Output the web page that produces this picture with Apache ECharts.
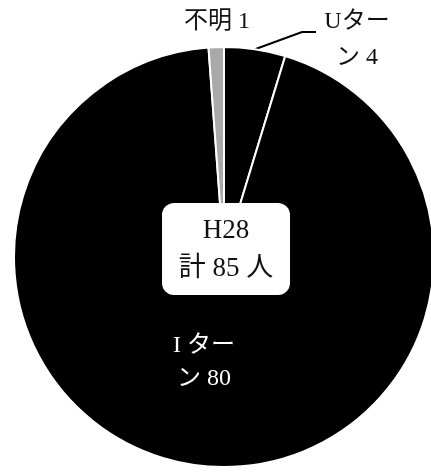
<!DOCTYPE html>
<html style="height: 100%">
<head>
    <meta charset="utf-8">
    <title>H28 pie</title>
    <script src="https://cdn.jsdelivr.net/npm/echarts@6/dist/echarts.min.js"></script>
</head>
<body style="height: 100%; margin: 0; background: #fff">
    <div id="chart" style="width: 431px; height: 472px"></div>
    <script>
        // データ（時計回り、12時の位置から）
        const names = ['Uターン', 'Iターン', '不明'];
        const values = [4, 80, 1];
        const colors = ['#000000', '#000000', '#a9a9a9'];
        const labelTexts = ['Uター\nン 4', 'I ター\nン 80', '不明 1'];
        const centerLines = ['H28', '計 85 人'];

        const font = '"Liberation Serif", "Noto Sans CJK JP", serif';

        const chart = echarts.init(document.getElementById('chart'), null, { renderer: 'canvas' });

        const option = {
            backgroundColor: '#ffffff',
            animation: false,
            // 中央の白い枠
            graphic: [{
                type: 'rect',
                z: 100,
                shape: { x: 162, y: 203, width: 128, height: 92, r: 12 },
                style: { fill: '#ffffff' }
            }, {
                type: 'text',
                z: 101,
                x: 226,
                y: 250,
                style: {
                    text: centerLines.join('\n'),
                    font: '27px ' + font,
                    lineHeight: 38,
                    fill: '#111',
                    align: 'center',
                    verticalAlign: 'middle'
                }
            }],
            series: [{
                type: 'pie',
                center: [224, 257],
                radius: [0, 210],
                startAngle: 90,
                clockwise: true,
                silent: true,
                itemStyle: { borderColor: '#ffffff', borderWidth: 2 },
                labelLine: { show: true, lineStyle: { color: '#000', width: 2 }, smooth: false },
                label: {
                    fontFamily: font,
                    fontSize: 24,
                    color: '#111'
                },
                labelLayout: function (params) {
                    if (params.dataIndex === 0) {
                        const p = params.labelLinePoints[0];
                        return {
                            x: 357, y: 40, align: 'center', verticalAlign: 'middle',
                            labelLinePoints: [p, [302, 32], [316, 32]]
                        };
                    }
                    if (params.dataIndex === 2) {
                        return { x: 217, y: 22, align: 'center', verticalAlign: 'middle' };
                    }
                    return { dx: -8, dy: -2 };
                },
                data: names.map((n, i) => ({
                    name: n,
                    value: values[i],
                    itemStyle: { color: colors[i] },
                    label: {
                        formatter: labelTexts[i],
                        position: i === 1 ? 'inside' : 'outside',
                        color: i === 1 ? '#fff' : '#111',
                        align: i === 1 ? 'left' : 'center',
                        lineHeight: i === 1 ? 33 : 36
                    },
                    labelLine: { show: i === 0 }
                }))
            }]
        };
        chart.setOption(option);
    </script>
</body>
</html>
